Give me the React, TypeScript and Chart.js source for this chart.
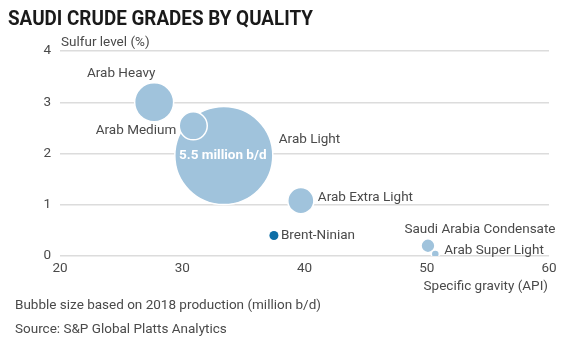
import React, { useEffect, useRef } from "react";
import { Chart, registerables } from "chart.js";
Chart.register(...registerables);

const grades = ["Arab Light", "Arab Heavy", "Arab Medium", "Arab Extra Light", "Saudi Arabia Condensate", "Arab Super Light"];
const apiGravity = [33.4, 27.7, 30.9, 39.7, 50.1, 50.7];
const sulfur = [1.96, 3.0, 2.54, 1.08, 0.2, 0.04];
const production = [5.5, 0.87, 0.45, 0.39, 0.11, 0.037];
const benchmarkName = ["Brent-Ninian"];
const benchmarkApi = [37.5];
const benchmarkSulfur = [0.4];
const xTicks = [20, 30, 40, 50, 60];
const yTicks = [0, 1, 2, 3, 4];

const FONT = "Roboto, 'Noto Sans', sans-serif";
const MAX_R = 49;
const TEXT = "#4a4a4a";
const FS = 13.5;

// label placements: [align, dx, dy]
const labelPlace: Record<string, [CanvasTextAlign, number, number]> = {
  "Arab Light": ["left", 55, -16],
  "Arab Heavy": ["center", -33, -29],
  "Arab Medium": ["right", -17, 5],
  "Arab Extra Light": ["left", 17, -3],
  "Saudi Arabia Condensate": ["center", 52, -16],
  "Arab Super Light": ["left", 9, -3],
  "Brent-Ninian": ["left", 7, 0],
};

export default function App() {
  const ref = useRef<HTMLCanvasElement>(null);
  useEffect(() => {
    const textPlugin = {
      id: "texts",
      afterDatasetsDraw(chart: any) {
        const ctx = chart.ctx;
        ctx.save();
        // title
        ctx.fillStyle = "#1a1a1a";
        ctx.font = `bold 20px ${FONT}`;
        ctx.textBaseline = "alphabetic";
        ctx.textAlign = "left";
        const title = "SAUDI CRUDE GRADES BY QUALITY";
        const w = ctx.measureText(title).width;
        ctx.save();
        ctx.translate(8, 25);
        ctx.scale(305 / w, 1);
        ctx.fillText(title, 0, 0);
        ctx.restore();

        ctx.fillStyle = TEXT;
        ctx.font = `${FS}px ${FONT}`;
        ctx.textBaseline = "middle";
        ctx.fillText("Sulfur level (%)", 61, 43);
        ctx.textAlign = "right";
        ctx.fillText("Specific gravity (API)", 548, 287);
        ctx.textAlign = "left";
        ctx.fillText("Bubble size based on 2018 production (million b/d)", 15, 306);
        ctx.fillText("Source: S&P Global Platts Analytics", 15, 330);

        // point labels
        chart.data.datasets.forEach((ds: any, di: number) => {
          const meta = chart.getDatasetMeta(di);
          meta.data.forEach((el: any, i: number) => {
            const name = ds.names[i];
            const p = labelPlace[name];
            ctx.textAlign = p[0];
            ctx.fillStyle = TEXT;
            ctx.font = `${FS}px ${FONT}`;
            ctx.fillText(name, el.x + p[1], el.y + p[2]);
            if (name === "Arab Light") {
              ctx.textAlign = "center";
              ctx.fillStyle = "#ffffff";
              ctx.font = `bold ${FS}px ${FONT}`;
              ctx.fillText(`${production[i]} million b/d`, el.x - 1, el.y);
            }
          });
        });
        ctx.restore();
      },
    };

    const chart = new Chart(ref.current!, {
      type: "bubble",
      data: {
        datasets: [
          {
            names: grades,
            data: grades.map((_, i) => ({ x: apiGravity[i], y: sulfur[i], r: MAX_R * Math.sqrt(production[i] / 5.5) })),
            backgroundColor: "#a0c3dc",
            borderColor: "#ffffff",
            borderWidth: 1.5,
          } as any,
          {
            names: benchmarkName,
            data: benchmarkName.map((_, i) => ({ x: benchmarkApi[i], y: benchmarkSulfur[i], r: 4.5 })),
            backgroundColor: "#0d6ea6",
            borderColor: "#0d6ea6",
            borderWidth: 0,
          } as any,
        ],
      },
      options: {
        animation: false,
        responsive: false,
        devicePixelRatio: 1,
        events: [],
        layout: { autoPadding: false, padding: { top: 51, right: 37, left: 0, bottom: 0 } },
        plugins: { legend: { display: false }, tooltip: { enabled: false }, title: { display: false } },
        scales: {
          x: {
            type: "linear",
            min: 20,
            max: 60,
            afterFit: (s: any) => { s.height = 89; },
            afterBuildTicks: (s: any) => { s.ticks = xTicks.map((v) => ({ value: v })); },
            grid: { display: false, drawTicks: false },
            border: { display: false },
            ticks: { color: TEXT, font: { family: FONT, size: FS }, padding: 5 },
          },
          y: {
            type: "linear",
            min: 0,
            max: 4,
            afterFit: (s: any) => { s.width = 60; },
            afterBuildTicks: (s: any) => { s.ticks = yTicks.map((v) => ({ value: v })); },
            grid: { color: "#dcdcdc", lineWidth: 1.5, drawTicks: false },
            border: { display: false },
            ticks: { color: TEXT, font: { family: FONT, size: FS }, padding: 9 },
          },
        },
      },
      plugins: [textPlugin],
    } as any);
    return () => chart.destroy();
  }, []);
  return (
    <div style={{ position: "fixed", left: 0, top: 0, width: 586, height: 345, background: "#fff" }}>
      <canvas ref={ref} width={586} height={345} />
    </div>
  );
}
